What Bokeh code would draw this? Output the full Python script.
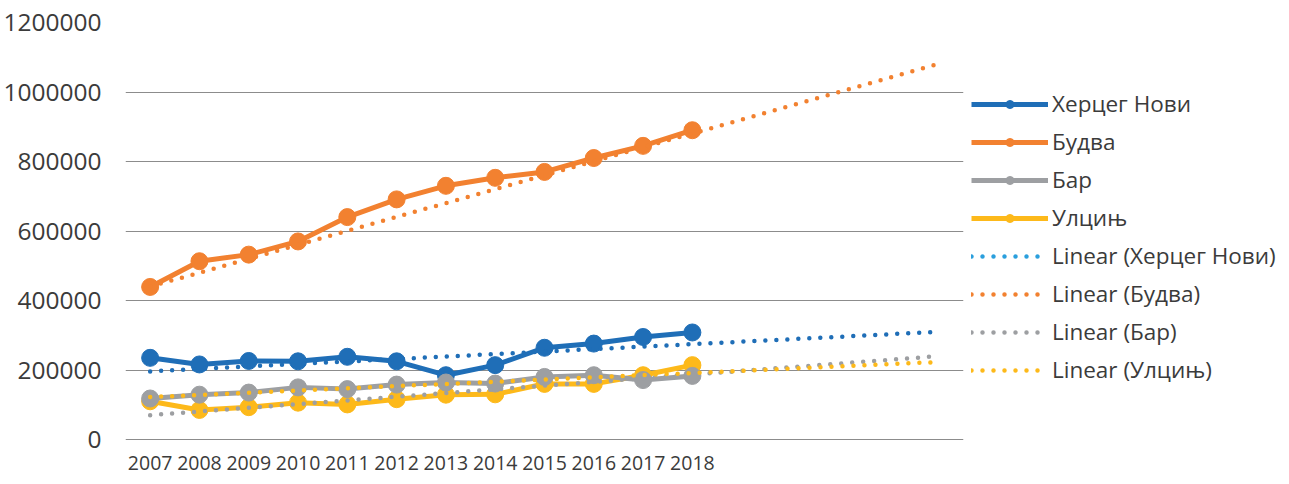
from bokeh.plotting import figure
from bokeh.models import Legend, LegendItem, FixedTicker, NumeralTickFormatter
from bokeh.core.properties import value
from bokeh.embed import file_html
from bokeh.resources import INLINE

# ---- data ----
years = [2007, 2008, 2009, 2010, 2011, 2012, 2013, 2014, 2015, 2016, 2017, 2018]
year_labels = ["2007", "2008", "2009", "2010", "2011", "2012", "2013", "2014", "2015", "2016", "2017", "2018"]
herceg_novi = [235000, 216000, 226000, 225000, 238000, 225000, 185000, 214000, 264000, 276000, 295000, 308000]
budva = [439000, 513000, 532000, 570000, 640000, 691000, 730000, 753000, 770000, 810000, 845000, 890000]
bar = [118000, 129000, 135000, 150000, 145000, 158000, 164000, 161000, 180000, 185000, 171000, 183000]
ulcinj = [110000, 85000, 93000, 106000, 101000, 116000, 129000, 130000, 160000, 160000, 185000, 214000]

# linear trend lines (start 2007, forecast end 2023), as drawn in the reference
trend_years = [2007, 2023]
trend_herceg_novi = [196000, 310000]
trend_budva = [440000, 1081000]
trend_bar = [70000, 240000]
trend_ulcinj = [122000, 223000]

y_ticks = [0, 200000, 400000, 600000, 800000, 1000000, 1200000]
y_max = 1200000

names = ["Херцег Нови", "Будва", "Бар", "Улцињ"]
BLUE = "#1F6EB7"
LIGHT_BLUE = "#2A9FDD"
ORANGE = "#F28130"
GRAY = "#9D9FA2"
YELLOW = "#FDB91A"
TEXT = "#3B3B3B"
GRID = "#8C8C8C"
FONT = "Open Sans"

# layout: value area is 417 px tall; a strip below zero holds the year labels
VALUE_PX = 417
STRIP_PX = 35
LABEL_PX = 23
units_per_px = y_max / VALUE_PX

p = figure(frame_width=838, frame_height=VALUE_PX + STRIP_PX, output_backend="svg", toolbar_location=None,
           x_range=(2006.5, 2023.5), y_range=(-STRIP_PX * units_per_px, y_max),
           min_border_left=121, min_border_right=0, min_border_top=22, min_border_bottom=0)
p.outline_line_color = None
p.background_fill_color = "white"
p.border_fill_color = "white"

p.xgrid.grid_line_color = None
p.ygrid.grid_line_color = GRID
p.ygrid.grid_line_width = 1
p.ygrid.ticker = FixedTicker(ticks=y_ticks)

p.yaxis.ticker = FixedTicker(ticks=y_ticks)
p.yaxis.formatter = NumeralTickFormatter(format="0")
p.yaxis.axis_line_color = None
p.yaxis.major_tick_line_color = None
p.yaxis.minor_tick_line_color = None
p.yaxis.major_label_standoff = 18
p.yaxis.major_label_text_font = FONT
p.yaxis.major_label_text_font_size = "24.5px"
p.yaxis.major_label_text_color = TEXT

p.xaxis.visible = False

# category (year) labels under the zero line
p.text(x=years, y=[-LABEL_PX * units_per_px] * len(years), text=year_labels,
       text_font=value(FONT), text_font_size="19.5px", text_color=TEXT,
       text_align="center", text_baseline="middle")

series = [(herceg_novi, BLUE), (budva, ORANGE), (ulcinj, YELLOW), (bar, GRAY)]
data_items = {}
for vals, col in series:
    lr = p.line(years, vals, line_color=col, line_width=5, line_join="round")
    sr = p.scatter(years, vals, size=17, fill_color=col, line_color=col)
    data_items[col] = [lr, sr]

trends = [(trend_herceg_novi, BLUE), (trend_budva, ORANGE), (trend_bar, GRAY), (trend_ulcinj, YELLOW)]
trend_items = {}
for vals, col in trends:
    tr = p.line(trend_years, vals, line_color=col, line_width=4.5, line_dash="0 11", line_cap="round")
    trend_items[col] = tr

# legend sample for the first trend uses a lighter blue, as in the reference (drawn off-range)
leg_blue_trend = p.line([2030, 2031], [0, 0], line_color=LIGHT_BLUE, line_width=4.5,
                        line_dash="0 11", line_cap="round")

items = [
    LegendItem(label=names[0], renderers=data_items[BLUE]),
    LegendItem(label=names[1], renderers=data_items[ORANGE]),
    LegendItem(label=names[2], renderers=data_items[GRAY]),
    LegendItem(label=names[3], renderers=data_items[YELLOW]),
    LegendItem(label="Linear (" + names[0] + ")", renderers=[leg_blue_trend]),
    LegendItem(label="Linear (" + names[1] + ")", renderers=[trend_items[ORANGE]]),
    LegendItem(label="Linear (" + names[2] + ")", renderers=[trend_items[GRAY]]),
    LegendItem(label="Linear (" + names[3] + ")", renderers=[trend_items[YELLOW]]),
]
legend = Legend(items=items, location=(8, 89), orientation="vertical",
                glyph_width=77, glyph_height=20, label_height=20, label_standoff=4,
                spacing=7, padding=0, margin=8,
                border_line_color=None, background_fill_alpha=0,
                label_text_font=FONT, label_text_font_size="22.5px", label_text_color=TEXT)
p.add_layout(legend, "right")

open("out.html", "w").write(file_html(p, INLINE))
